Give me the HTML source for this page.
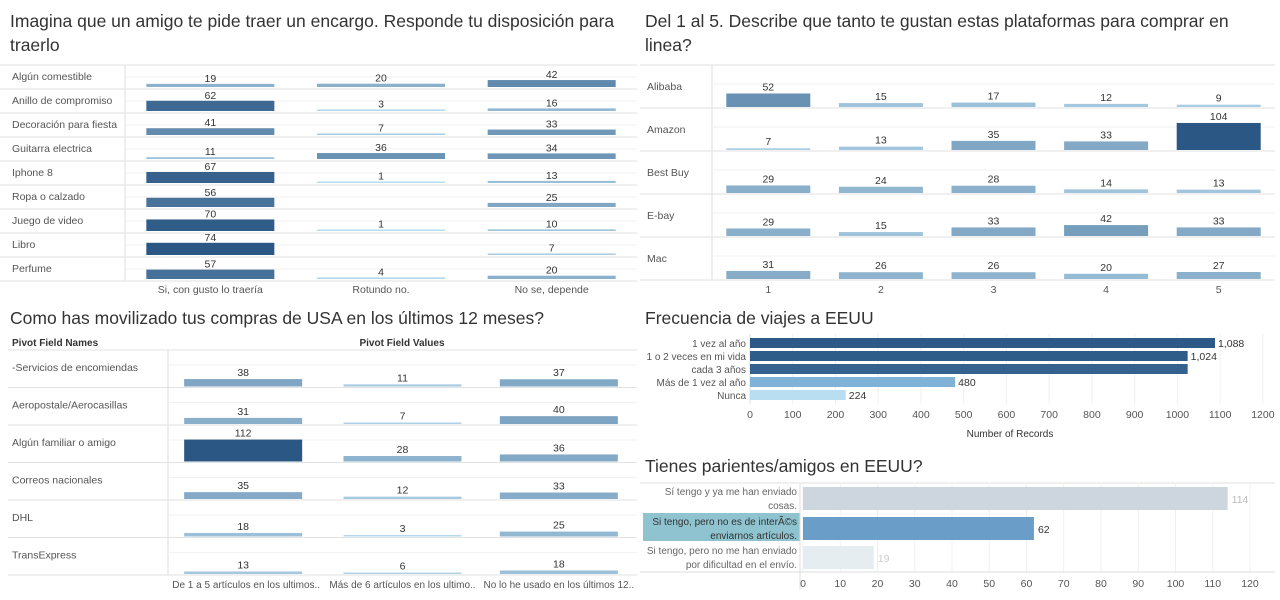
<!DOCTYPE html>
<html><head><meta charset="utf-8">
<style>
body{margin:0;width:1280px;height:600px;background:#fff;font-family:"Liberation Sans",sans-serif;overflow:hidden;position:relative}
.t{position:absolute;font-size:17.5px;color:#333;line-height:24px}
svg{position:absolute;left:0;top:0}
text{font-family:"Liberation Sans",sans-serif}
</style></head><body>
<div class="t" style="left:10px;top:9px;width:630px">Imagina que un amigo te pide traer un encargo. Responde tu disposición para traerlo</div>
<div class="t" style="left:645px;top:9px;width:630px">Del 1 al 5. Describe que tanto te gustan estas plataformas para comprar en linea?</div>
<div class="t" style="left:10px;top:306px">Como has movilizado tus compras de USA en los últimos 12 meses?</div>
<div class="t" style="left:645px;top:306px">Frecuencia de viajes a EEUU</div>
<div class="t" style="left:645px;top:454px">Tienes parientes/amigos en EEUU?</div>
<svg id="s" width="1280" height="600"></svg>
<script>
// ---- Data ----
const p1Rows=["Algún comestible","Anillo de compromiso","Decoración para fiesta","Guitarra electrica","Iphone 8","Ropa o calzado","Juego de video","Libro","Perfume"];
const p1Cols=["Si, con gusto lo traería","Rotundo no.","No se, depende"];
const p1Si=[19,62,41,11,67,56,70,74,57];
const p1No=[20,3,7,36,1,null,1,null,4];
const p1Dep=[42,16,33,34,13,25,10,7,20];

const p2Rows=["Alibaba","Amazon","Best Buy","E-bay","Mac"];
const p2Cols=["1","2","3","4","5"];
const p2V1=[52,7,29,29,31];
const p2V2=[15,13,24,15,26];
const p2V3=[17,35,28,33,26];
const p2V4=[12,33,14,42,20];
const p2V5=[9,104,13,33,27];

const p3Rows=["-Servicios de encomiendas","Aeropostale/Aerocasillas","Algún familiar o amigo","Correos nacionales","DHL","TransExpress"];
const p3Cols=["De 1 a 5 artículos en los ultimos..","Más de 6 artículos en los ultimo..","No lo he usado en los últimos 12.."];
const p3A=[38,31,112,35,18,13];
const p3B=[11,7,28,12,3,6];
const p3C=[37,40,36,33,25,18];

const p4Cats=["1 vez al año","1 o 2 veces en mi vida","cada 3  años","Más de 1 vez al año","Nunca"];
const p4Vals=[1088,1024,1024,480,224];
const p4Labels=["1,088","1,024","","480","224"];
const p4Ticks=[0,100,200,300,400,500,600,700,800,900,1000,1100,1200];

const p5Cats=[["Sí tengo y ya me han enviado","cosas."],["Si tengo, pero no es de interÃ©s","enviarnos artículos."],["Si tengo, pero no me han enviado","por dificultad en el envío."]];
const p5Vals=[114,62,19];
const p5Ticks=[0,10,20,30,40,50,60,70,80,90,100,110,120];

const S=document.getElementById('s');
const NS="http://www.w3.org/2000/svg";
function el(tag,a,txt){const e=document.createElementNS(NS,tag);for(const k in a)e.setAttribute(k,a[k]);if(txt!=null)e.textContent=txt;S.appendChild(e);return e;}
function line(x1,y1,x2,y2,c,n){const e=el('line',{x1,y1,x2,y2,stroke:c,'stroke-width':1});

return e;}
function txt(x,y,s,o,n,inter){const e=el('text',Object.assign({x,y,'font-size':10.5,fill:'#555'},o||{}),s);

return e;}
function lerp(a,b,t){return Math.round(a+(b-a)*t);}
function col(v,max){let t=Math.min(1,Math.max(0,v/max));t=Math.pow(t,0.8);
return `rgb(${lerp(190,42,t)},${lerp(224,87,t)},${lerp(243,131,t)})`;}

// ---- Panel 1 ----
(function(){
const top=65,rh=24,lx=125,rx=637,cw=(rx-lx)/3,bw=128,k=0.165,max=74;
const series=[p1Si,p1No,p1Dep];
line(0,top,rx,top,'#e2e2e2','top-border');
line(lx,top,lx,top+rh*9,'#ddd','row-header-divider');
p1Rows.forEach((r,i)=>{const yb=top+rh*(i+1);
 txt(12,top+rh*i+15,r,{},'row-label-encargo');
 line(lx,top+rh*i+12,rx,top+rh*i+12,'#f2f2f2','gridline');
 line(0,yb,rx,yb,'#e2e2e2','row-divider');
 series.forEach((s,j)=>{const v=s[i];if(v==null)return;const cx=lx+cw*j+cw/2;const h=Math.max(1.5,v*k);
  const b=el('rect',{x:cx-bw/2,y:yb-2-h,width:bw,height:h,fill:col(v,max)});
  
  
  txt(cx,yb-4-h,v,{'text-anchor':'middle',fill:'#333'},'bar-value-label');});
});
p1Cols.forEach((c,j)=>txt(lx+cw*j+cw/2,293,c,{'text-anchor':'middle'},'column-label-encargo'));
})();

// ---- Panel 2 ----
(function(){
const top=65,rh=43,lx=712,rx=1275,cw=(rx-lx)/5,bw=84,k=0.26,max=104;
const series=[p2V1,p2V2,p2V3,p2V4,p2V5];
line(640,top,rx,top,'#e2e2e2','top-border');
line(lx,top,lx,top+rh*5,'#ddd','row-header-divider');
p2Rows.forEach((r,i)=>{const yb=top+rh*(i+1);
 txt(647,top+rh*i+25,r,{},'row-label-plataforma');
 line(lx,top+rh*i+19,rx,top+rh*i+19,'#f2f2f2','gridline');
 line(640,yb,rx,yb,'#e2e2e2','row-divider');
 series.forEach((s,j)=>{const v=s[i];const cx=lx+cw*j+cw/2;const h=Math.max(1.5,v*k);
  const b=el('rect',{x:cx-bw/2,y:yb-1-h,width:bw,height:h,fill:col(v,max)});
  
  
  txt(cx,yb-4-h,v,{'text-anchor':'middle',fill:'#333'},'bar-value-label');});
});
p2Cols.forEach((c,j)=>txt(lx+cw*j+cw/2,293,c,{'text-anchor':'middle'},'column-label-rating'));
})();

// ---- Panel 3 ----
(function(){
const top=350,rh=37.5,lx=168,rx=637,cw=(rx-lx)/3,bw=118,k=0.196,max=112;
const series=[p3A,p3B,p3C];
txt(12,346,"Pivot Field Names",{'font-weight':'bold',fill:'#333','font-size':10},'row-header-title');
txt(402,346,"Pivot Field Values",{'font-weight':'bold',fill:'#333','font-size':10,'text-anchor':'middle'},'column-header-title');
line(8,top,rx,top,'#e2e2e2','top-border');
line(lx,top,lx,top+rh*6,'#ddd','row-header-divider');
p3Rows.forEach((r,i)=>{const yb=top+rh*(i+1);
 txt(12,top+rh*i+21,r,{},'row-label-medio');
 line(lx,top+rh*i+15,rx,top+rh*i+15,'#f2f2f2','gridline');
 line(8,yb,rx,yb,'#e2e2e2','row-divider');
 series.forEach((s,j)=>{const v=s[i];const cx=lx+cw*j+cw/2+(j===0?-3:0);const h=Math.max(1.5,v*k);
  const b=el('rect',{x:cx-bw/2,y:yb-1-h,width:bw,height:h,fill:col(v,max)});
  
  
  txt(cx,yb-4-h,v,{'text-anchor':'middle',fill:'#333'},'bar-value-label');});
});
p3Cols.forEach((c,j)=>txt(lx+cw*j+cw/2,588,c,{'text-anchor':'middle','font-size':10},'column-label-medio'));
})();

// ---- Panel 4 ----
(function(){
const x0=750,k=(1215-750)/1088,y0=338,step=13,bh=10;
const cols=["#2c5985","#2f5d89","#34618e","#80b2d8","#b9ddf1"];
p4Ticks.forEach(t=>{const x=x0+t*k;line(x,334,x,404,'#f0f0f0','x-gridline');
 txt(x,418,t,{'text-anchor':'middle'},'x-tick-label');});
line(x0,334,x0,404,'#ddd','y-axis-line');
p4Cats.forEach((c,i)=>{const y=y0+step*i;
 txt(746,y+9,c,{'text-anchor':'end','font-size':10},'category-label-viajes');
 const b=el('rect',{x:x0,y:y,width:p4Vals[i]*k,height:bh,fill:cols[i]});
 
 
 if(p4Labels[i])txt(x0+p4Vals[i]*k+3,y+9,p4Labels[i],{fill:'#333'},'bar-value-label');});
txt(1010,437,"Number of Records",{'text-anchor':'middle',fill:'#333','font-size':10},'x-axis-title');
})();

// ---- Panel 5 ----
(function(){
const x0=803,k=(1250-803)/120,ys=[487,517,546],bh=23;
const cols=["#cdd5df","#6a9ec8","#e6edf1"];
const lc=["#bbb","#333","#ccc"];
line(640,483,1275,483,'#e2e2e2','top-border');
el('rect',{x:643,y:513,width:157,height:28,fill:'#8ec3cf'});
p5Ticks.forEach(t=>{const x=x0+t*k;line(x,483,x,572,'#f0f0f0','x-gridline');
 txt(x,587,t,{'text-anchor':'middle'},'x-tick-label');});
line(x0-3,483,x0-3,590,'#ddd','y-axis-line');
line(640,572,1275,572,'#ddd','x-axis-line');
p5Cats.forEach((c,i)=>{const y=ys[i];
 txt(797,y+8,c[0],{'text-anchor':'end',fill:i==1?'#333':'#666','font-size':10},'category-label-parientes',true);
 txt(797,y+22,c[1],{'text-anchor':'end',fill:i==1?'#333':'#666','font-size':10},'category-label-parientes',true);
 const b=el('rect',{x:x0,y:y,width:p5Vals[i]*k,height:bh,fill:cols[i]});
 
 
 txt(x0+p5Vals[i]*k+4,y+16,p5Vals[i],{fill:lc[i]},'bar-value-label');});
})();
</script>
</body></html>
